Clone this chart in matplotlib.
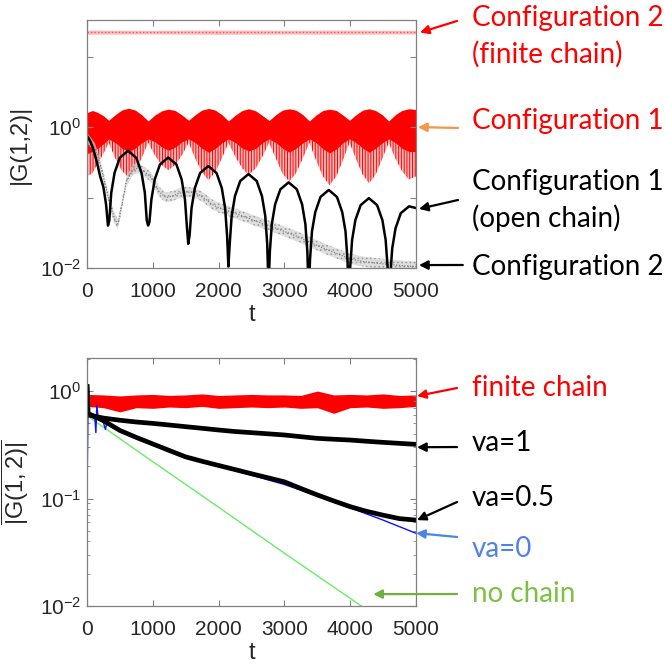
import matplotlib
matplotlib.use('Agg')
import matplotlib.pyplot as plt
from matplotlib.ticker import NullLocator, LogLocator

# ---------------- data ----------------
# top panel, Configuration 2 (finite chain): thin pink band
t_fin2 = [0, 1000, 2000, 3000, 4000, 5000]
fin2_lo = [20.8, 21.0, 20.7, 20.9, 20.8, 21.0]
fin2_hi = [23.8, 23.6, 23.9, 23.7, 23.8, 23.6]

# top panel, Configuration 1: red band (upper edge, dense lower edge, spike tips)
t_c1 = [0, 80, 160, 250, 330,
        430, 530, 630, 730, 830, 930,
        1030, 1135, 1237, 1340, 1445, 1545,
        1645, 1745, 1847, 1950, 2050, 2150,
        2255, 2360, 2459, 2565, 2665, 2768,
        2870, 2970, 3074, 3175, 3280, 3380,
        3480, 3585, 3685, 3790, 3890, 3990,
        4090, 4190, 4288, 4385, 4485, 4585,
        4685, 4785, 4890, 5000]
c1_hi = [1.6, 1.72, 1.62, 1.45, 1.25,
         1.5, 1.75, 1.85, 1.75, 1.5, 1.22,
         1.48, 1.7, 1.8, 1.72, 1.48, 1.25,
         1.5, 1.74, 1.84, 1.74, 1.5, 1.22,
         1.48, 1.72, 1.82, 1.7, 1.46, 1.24,
         1.5, 1.74, 1.82, 1.74, 1.5, 1.22,
         1.48, 1.72, 1.8, 1.72, 1.48, 1.25,
         1.5, 1.74, 1.82, 1.72, 1.5, 1.22,
         1.5, 1.72, 1.82, 1.78]
c1_core = [0.42, 0.45, 0.5, 0.58, 0.68,
           0.6, 0.5, 0.45, 0.5, 0.6, 0.68,
           0.62, 0.52, 0.47, 0.52, 0.62, 0.68,
           0.6, 0.5, 0.44, 0.5, 0.6, 0.68,
           0.6, 0.5, 0.46, 0.5, 0.6, 0.68,
           0.6, 0.5, 0.44, 0.5, 0.6, 0.68,
           0.6, 0.49, 0.43, 0.49, 0.6, 0.68,
           0.6, 0.5, 0.44, 0.5, 0.6, 0.68,
           0.6, 0.5, 0.45, 0.45]
c1_spike = [0.2, 0.22, 0.3, 0.42, 0.6,
            0.36, 0.24, 0.195, 0.24, 0.36, 0.6,
            0.4, 0.29, 0.245, 0.29, 0.4, 0.6,
            0.36, 0.23, 0.177, 0.23, 0.36, 0.6,
            0.38, 0.26, 0.21, 0.26, 0.38, 0.6,
            0.36, 0.22, 0.17, 0.22, 0.36, 0.6,
            0.34, 0.2, 0.15, 0.2, 0.34, 0.6,
            0.35, 0.21, 0.16, 0.21, 0.35, 0.6,
            0.36, 0.24, 0.18, 0.2]

# top panel, Configuration 1 (open chain): black arches
t_open = [0, 30, 60, 100, 150, 200, 250, 290, 319,
          339, 369, 419, 499, 624, 749, 829, 879, 909, 929,
          949, 979, 1029, 1109, 1234, 1359, 1439, 1489, 1519, 1539,
          1559, 1589, 1639, 1719, 1844, 1969, 2049, 2099, 2129, 2149,
          2169, 2199, 2249, 2329, 2454, 2579, 2659, 2709, 2739, 2759,
          2779, 2809, 2859, 2939, 3064, 3189, 3269, 3319, 3349, 3369,
          3389, 3419, 3469, 3549, 3674, 3799, 3879, 3929, 3959, 3979,
          3999, 4029, 4079, 4159, 4284, 4409, 4489, 4539, 4569, 4589,
          4609, 4639, 4689, 4769, 4894, 5000]
g_open = [0.75, 0.68, 0.6, 0.47, 0.32, 0.2, 0.14, 0.08, 0.04,
          0.047, 0.117, 0.224, 0.367, 0.46, 0.367, 0.224, 0.117, 0.047, 0.04,
          0.045, 0.094, 0.18, 0.295, 0.37, 0.295, 0.18, 0.094, 0.038, 0.022,
          0.029, 0.071, 0.136, 0.223, 0.28, 0.223, 0.136, 0.071, 0.029, 0.0105,
          0.022, 0.055, 0.105, 0.172, 0.215, 0.172, 0.105, 0.055, 0.022, 0.005,
          0.017, 0.042, 0.08, 0.131, 0.164, 0.131, 0.08, 0.042, 0.017, 0.004,
          0.013, 0.033, 0.062, 0.102, 0.128, 0.102, 0.062, 0.033, 0.013, 0.003,
          0.010, 0.025, 0.048, 0.078, 0.098, 0.078, 0.048, 0.025, 0.010, 0.003,
          0.0077, 0.019, 0.0366, 0.06, 0.075, 0.071]

# top panel, Configuration 2: gray dotted band
t_c2 = [0, 60, 120, 200, 280, 350, 420, 470, 520, 600, 700, 780, 880, 980,
        1100, 1200, 1300, 1400, 1500, 1600, 1700, 1800, 1900, 2000, 2200,
        2400, 2600, 2800, 3000, 3200, 3400, 3600, 3800, 4000, 4200, 4400,
        4600, 4800, 5000]
g_c2 = [0.7, 0.6, 0.5, 0.3, 0.15, 0.08, 0.05, 0.042, 0.07, 0.17, 0.25, 0.26,
        0.23, 0.19, 0.12, 0.1, 0.105, 0.115, 0.12, 0.118, 0.11, 0.095, 0.08,
        0.072, 0.062, 0.053, 0.045, 0.039, 0.033, 0.028, 0.023, 0.019, 0.016,
        0.0135, 0.0123, 0.0117, 0.0112, 0.0108, 0.0105]

# bottom panel
t_b = [0, 250, 500, 750, 1000, 1250, 1500, 1750, 2000, 2250, 2500, 2750,
       3000, 3250, 3500, 3750, 4000, 4250, 4500, 4750, 5000]
fin_lo = [0.72, 0.7, 0.64, 0.7, 0.69, 0.71, 0.7, 0.72, 0.69, 0.7, 0.71,
          0.7, 0.71, 0.69, 0.7, 0.62, 0.7, 0.71, 0.69, 0.7, 0.72]
fin_hi = [0.93, 0.92, 0.9, 0.92, 0.93, 0.91, 0.92, 0.94, 0.91, 0.92, 0.93,
          0.92, 0.92, 0.91, 1.0, 0.92, 0.93, 0.92, 0.94, 0.91, 0.92]

t_va = [0, 15, 250, 500, 750, 1000, 1250, 1500, 1750, 2000, 2250, 2500,
        2750, 3000, 3250, 3500, 3750, 4000, 4250, 4500, 4750, 5000]
g_va1 = [1.1, 0.6, 0.56, 0.535, 0.515, 0.5, 0.483, 0.466, 0.45, 0.434, 0.42,
         0.41, 0.4, 0.39, 0.376, 0.363, 0.356, 0.35, 0.341, 0.333, 0.326, 0.319]
g_va05 = [1.1, 0.62, 0.53, 0.43, 0.37, 0.322, 0.28, 0.244, 0.222, 0.203,
          0.186, 0.17, 0.156, 0.143, 0.124, 0.108, 0.095, 0.084, 0.076, 0.07,
          0.065, 0.063]

t_va0 = [0, 15, 60, 120, 135, 150, 170, 250, 280, 300, 500, 1000, 1500,
         2000, 2500, 3000, 3500, 4000, 4500, 5000]
g_va0 = [0.1, 0.62, 0.58, 0.55, 0.41, 0.74, 0.56, 0.51, 0.44, 0.5, 0.43,
         0.32, 0.243, 0.2, 0.165, 0.135, 0.106, 0.082, 0.063, 0.0475]

t_nochain = [0, 1000, 2000, 3000, 4000, 5000]
g_nochain = [0.59, 0.22, 0.083, 0.031, 0.0118, 0.0044]

xticks = [0, 1000, 2000, 3000, 4000, 5000]

# ---------------- style ----------------
plt.rcParams['font.family'] = ['Liberation Sans', 'DejaVu Sans']
plt.rcParams['mathtext.fontset'] = 'custom'
plt.rcParams['mathtext.rm'] = 'Liberation Sans'
plt.rcParams['mathtext.it'] = 'Liberation Sans:italic'
plt.rcParams['hatch.linewidth'] = 0.7

TICK_C = '#262626'
FRAME_C = '#808080'
ANN_FONT = ['Lato', 'DejaVu Sans']

fig = plt.figure(figsize=(6.64, 6.70), dpi=100)
ax1 = fig.add_axes([0.131, 0.600, 0.4955, 0.370])
ax2 = fig.add_axes([0.131, 0.0955, 0.4955, 0.3702])

# ---- top panel ----
ax1.fill_between(t_fin2, fin2_lo, fin2_hi, color='#ff9090', lw=0, alpha=0.6)
ax1.plot(t_fin2, [(a + b) / 2 for a, b in zip(fin2_lo, fin2_hi)],
         color='#ff5050', lw=1.0, ls=(0, (1, 1.5)))

ax1.fill_between(t_c1, c1_spike, c1_core, facecolor='#ff7070', alpha=0.5, lw=0)
ax1.fill_between(t_c1, c1_spike, c1_core, facecolor='none', edgecolor='#ff0000',
                 hatch='||||||', lw=0)
ax1.fill_between(t_c1, c1_core, c1_hi, color='#ff0000', lw=0)

ax1.fill_between(t_c2, [v / 1.18 for v in g_c2], [v * 1.18 for v in g_c2],
                 facecolor='#d0d0d0', edgecolor='#8a8a8a', hatch='....', lw=0,
                 alpha=0.7)
ax1.plot(t_c2, g_c2, color='#707070', lw=0.8, ls=(0, (1, 1.5)))

ax1.plot(t_open, g_open, color='black', lw=1.8)

ax1.set_yscale('log')
ax1.set_ylim(1e-2, 33)
ax1.set_yticks([1e-2, 1e-1, 1e0, 1e1])
ax1.set_yticklabels(['10$^{-2}$', '', '10$^{0}$', ''])
ax1.yaxis.set_minor_locator(NullLocator())
ax1.set_ylabel('|G(1,2)|', fontsize=17, color=TICK_C)
ax1.yaxis.set_label_coords(-0.17, 0.5)

# ---- bottom panel ----
ax2.fill_between(t_b, fin_lo, fin_hi, color='#ff0000', lw=0)
ax2.plot(t_nochain, g_nochain, color='#66ee66', lw=1.0)
ax2.plot(t_va0, g_va0, color='#1010ff', lw=1.0)
ax2.plot(t_va, g_va1, color='black', lw=3.4)
ax2.plot(t_va, g_va05, color='black', lw=3.4)

ax2.set_yscale('log')
ax2.set_ylim(1e-2, 2.03)
ax2.set_yticks([1e-2, 1e-1, 1e0])
ax2.set_yticklabels(['10$^{-2}$', '10$^{-1}$', '10$^{0}$'])
ax2.yaxis.set_minor_locator(LogLocator(base=10, subs=range(2, 10)))
ax2.set_ylabel(r'$\overline{\mathrm{|G(1,2)|}}$', fontsize=17, color=TICK_C)
ax2.yaxis.set_label_coords(-0.17, 0.5)

for ax in (ax1, ax2):
    ax.set_xlim(0, 5000)
    ax.set_xticks(xticks)
    ax.set_xticklabels([str(v) for v in xticks])
    ax.tick_params(which='both', direction='in', top=True, right=True,
                   color=FRAME_C, labelcolor=TICK_C, labelsize=15)
    ax.tick_params(which='major', length=4, width=0.8)
    ax.tick_params(which='minor', length=2.5, width=0.6)
    ax.tick_params(axis='x', pad=10)
    ax.tick_params(axis='y', pad=4)
    ax.yaxis.set_minor_formatter(plt.NullFormatter())
    for s in ax.spines.values():
        s.set_color(FRAME_C)
        s.set_linewidth(0.9)
    ax.set_xlabel('t', fontsize=17, color=TICK_C, labelpad=2)


# ---- annotations ----
def arrow(ax, head, tail, color, head_coords=('axes fraction', 'data')):
    ax.annotate('', xy=head, xycoords=head_coords, xytext=tail,
                textcoords='figure fraction', annotation_clip=False,
                arrowprops=dict(arrowstyle='-|>', color=color, lw=1.6,
                                mutation_scale=13, shrinkA=0, shrinkB=0))


def label(y, text, color):
    fig.text(0.7104, y, text, color=color, fontsize=20, family=ANN_FONT,
             va='center', ha='left')


RED = '#ff0000'
arrow(ax1, (1.012, 22), (0.6883, 0.9687), RED)
arrow(ax1, (1.006, 1.0), (0.6898, 0.809), '#f79646')
arrow(ax1, (1.009, 0.069), (0.6898, 0.7015), 'black')
arrow(ax1, (1.009, 0.011), (0.697, 0.6045), 'black')
label(0.9731, 'Configuration 2', RED)
label(0.9194, '(finite chain)', RED)
label(0.8194, 'Configuration 1', RED)
label(0.7284, 'Configuration 1', 'black')
label(0.6746, '(open chain)', 'black')
label(0.6015, 'Configuration 2', 'black')

arrow(ax2, (1.003, 0.898), (0.6883, 0.4209), RED)
arrow(ax2, (1.003, 0.30), (0.6883, 0.3328), 'black')
arrow(ax2, (1.003, 0.063), (0.6883, 0.2507), 'black')
arrow(ax2, (1.0, 0.0477), (0.6883, 0.1985), '#4a86e8')
arrow(ax2, (4350, 0.0129), (0.6883, 0.1134), '#70b040', head_coords='data')
label(0.4209, 'finite chain', RED)
label(0.3388, 'va=1', 'black')
label(0.2567, 'va=0.5', 'black')
label(0.1806, 'va=0', '#4f81e8')
label(0.1134, 'no chain', '#7cc142')

fig.savefig('out.png', dpi=100)
